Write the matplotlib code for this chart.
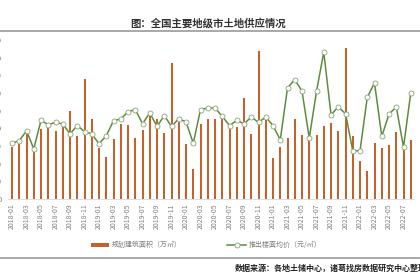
import matplotlib
matplotlib.use("Agg")
import matplotlib.pyplot as plt
from matplotlib.lines import Line2D
from matplotlib.patches import Patch

plt.rcParams['font.family'] = ['Noto Sans CJK SC', 'DejaVu Sans']

# ---- data ----
months = [f"{y}-{m:02d}" for y in range(2018, 2023) for m in range(1, 13)][:56]
area = [2940, 3160, 3750, 2780, 3980, 4050, 3860, 4110, 4960, 3540,
        6800, 4530, 2880, 2400, 3410, 4240, 4200, 3430, 3920, 4720,
        4530, 3730, 7710, 4390, 3130, 1690, 4240, 4530, 4530, 4590,
        4070, 4070, 5720, 3690, 8370, 4490, 2310, 2940, 3450, 4530,
        3640, 3350, 3640, 4160, 4290, 3860, 8560, 3540, 2130, 1560,
        3180, 2900, 3070, 3770, 2840, 3350]
price = [3160, 3300, 3860, 2840, 4450, 4200, 4340, 4240, 3690, 4150,
         3820, 3680, 3130, 3580, 4430, 4530, 4940, 5060, 4260, 4870,
         4110, 4720, 4110, 4550, 4360, 3160, 5060, 5150, 5150, 4680,
         4150, 4450, 4260, 4640, 4340, 4640, 4150, 3350, 6290, 6760,
         6100, 3450, 6100, 8310, 4770, 5210, 4830, 2730, 2730, 5760,
         6570, 3540, 4810, 5210, 2940, 6010]
left_ticks = list(range(0, 10000, 1000))
right_ticks = list(range(0, 10000, 1000))

title = "图：全国主要地级市土地供应情况"
bar_label = "规划建筑面积（万㎡）"
line_label = "推出楼面均价（元/㎡）"
source = "数据来源：各地土储中心，诸葛找房数据研究中心整理"

bar_color = "#C4622A"
line_color = "#5E8C3E"
tick_color = "#808080"

W, H = 420, 280
fig = plt.figure(figsize=(4.2, 2.8), dpi=100)
fig.patch.set_facecolor("white")

ax_left_px, ax_right_px = 8.4, 414.4
ax_top_px, ax_bot_px = 40, 199
ax = fig.add_axes([ax_left_px / W, 1 - ax_bot_px / H,
                   (ax_right_px - ax_left_px) / W, (ax_bot_px - ax_top_px) / H])
x = list(range(len(months)))
ax.bar(x, area, width=0.28, color=bar_color, zorder=2)
ax.set_xlim(-0.5, len(months) - 0.5)
ax.set_ylim(0, 9000)
ax.set_yticks(left_ticks)
ax.set_xticks(x[::2])
ax.set_xticklabels(months[::2], rotation=90, fontsize=5, color=tick_color)
ax.tick_params(axis='x', length=0, pad=3)
ax.tick_params(axis='y', length=0, pad=5, labelsize=5.5, labelcolor=tick_color)
for s in ['top', 'left', 'right']:
    ax.spines[s].set_visible(False)
ax.spines['bottom'].set_color("#D9D9D9")
ax.spines['bottom'].set_linewidth(0.6)

ax2 = ax.twinx()
ax2.plot(x, price, color=line_color, lw=1.1, marker='o', markersize=3.6,
         markerfacecolor='white', markeredgecolor='#8AA57A', markeredgewidth=0.6,
         zorder=3)
ax2.set_ylim(0, 9000)
ax2.set_yticks(right_ticks)
ax2.tick_params(axis='y', length=0, pad=5, labelsize=5.5, labelcolor=tick_color)
for s in ['top', 'left', 'right', 'bottom']:
    ax2.spines[s].set_visible(False)

# title and frame lines
fig.text(208 / W, 1 - 23 / H, title, ha='center', va='center', fontsize=7.5,
         fontweight='bold', color='#333333')
fig.add_artist(Line2D([0, 1], [1 - 31 / H, 1 - 31 / H], color='#9A9A9A', lw=1.2))
fig.add_artist(Line2D([0, 1], [1 - 257.5 / H, 1 - 257.5 / H], color='#9A9A9A', lw=1.2))
fig.text(235 / W, 1 - 268.5 / H, source, ha='left', va='center', fontsize=5.8,
         fontweight='bold', color='#222222')

handles = [Patch(facecolor=bar_color, edgecolor='none'),
           Line2D([], [], color=line_color, lw=1.1, marker='o', markersize=3.6,
                  markerfacecolor='white', markeredgecolor='#8AA57A', markeredgewidth=0.6)]
leg = fig.legend(handles, [bar_label, line_label], ncol=2, frameon=False,
                 loc='center', bbox_to_anchor=(206 / W, 1 - 245 / H),
                 fontsize=5, handlelength=2.7, handleheight=0.5,
                 columnspacing=6.5, handletextpad=0.4)
for t in leg.get_texts():
    t.set_color('#7F7F7F')

fig.savefig("out.png", dpi=100, facecolor="white")
